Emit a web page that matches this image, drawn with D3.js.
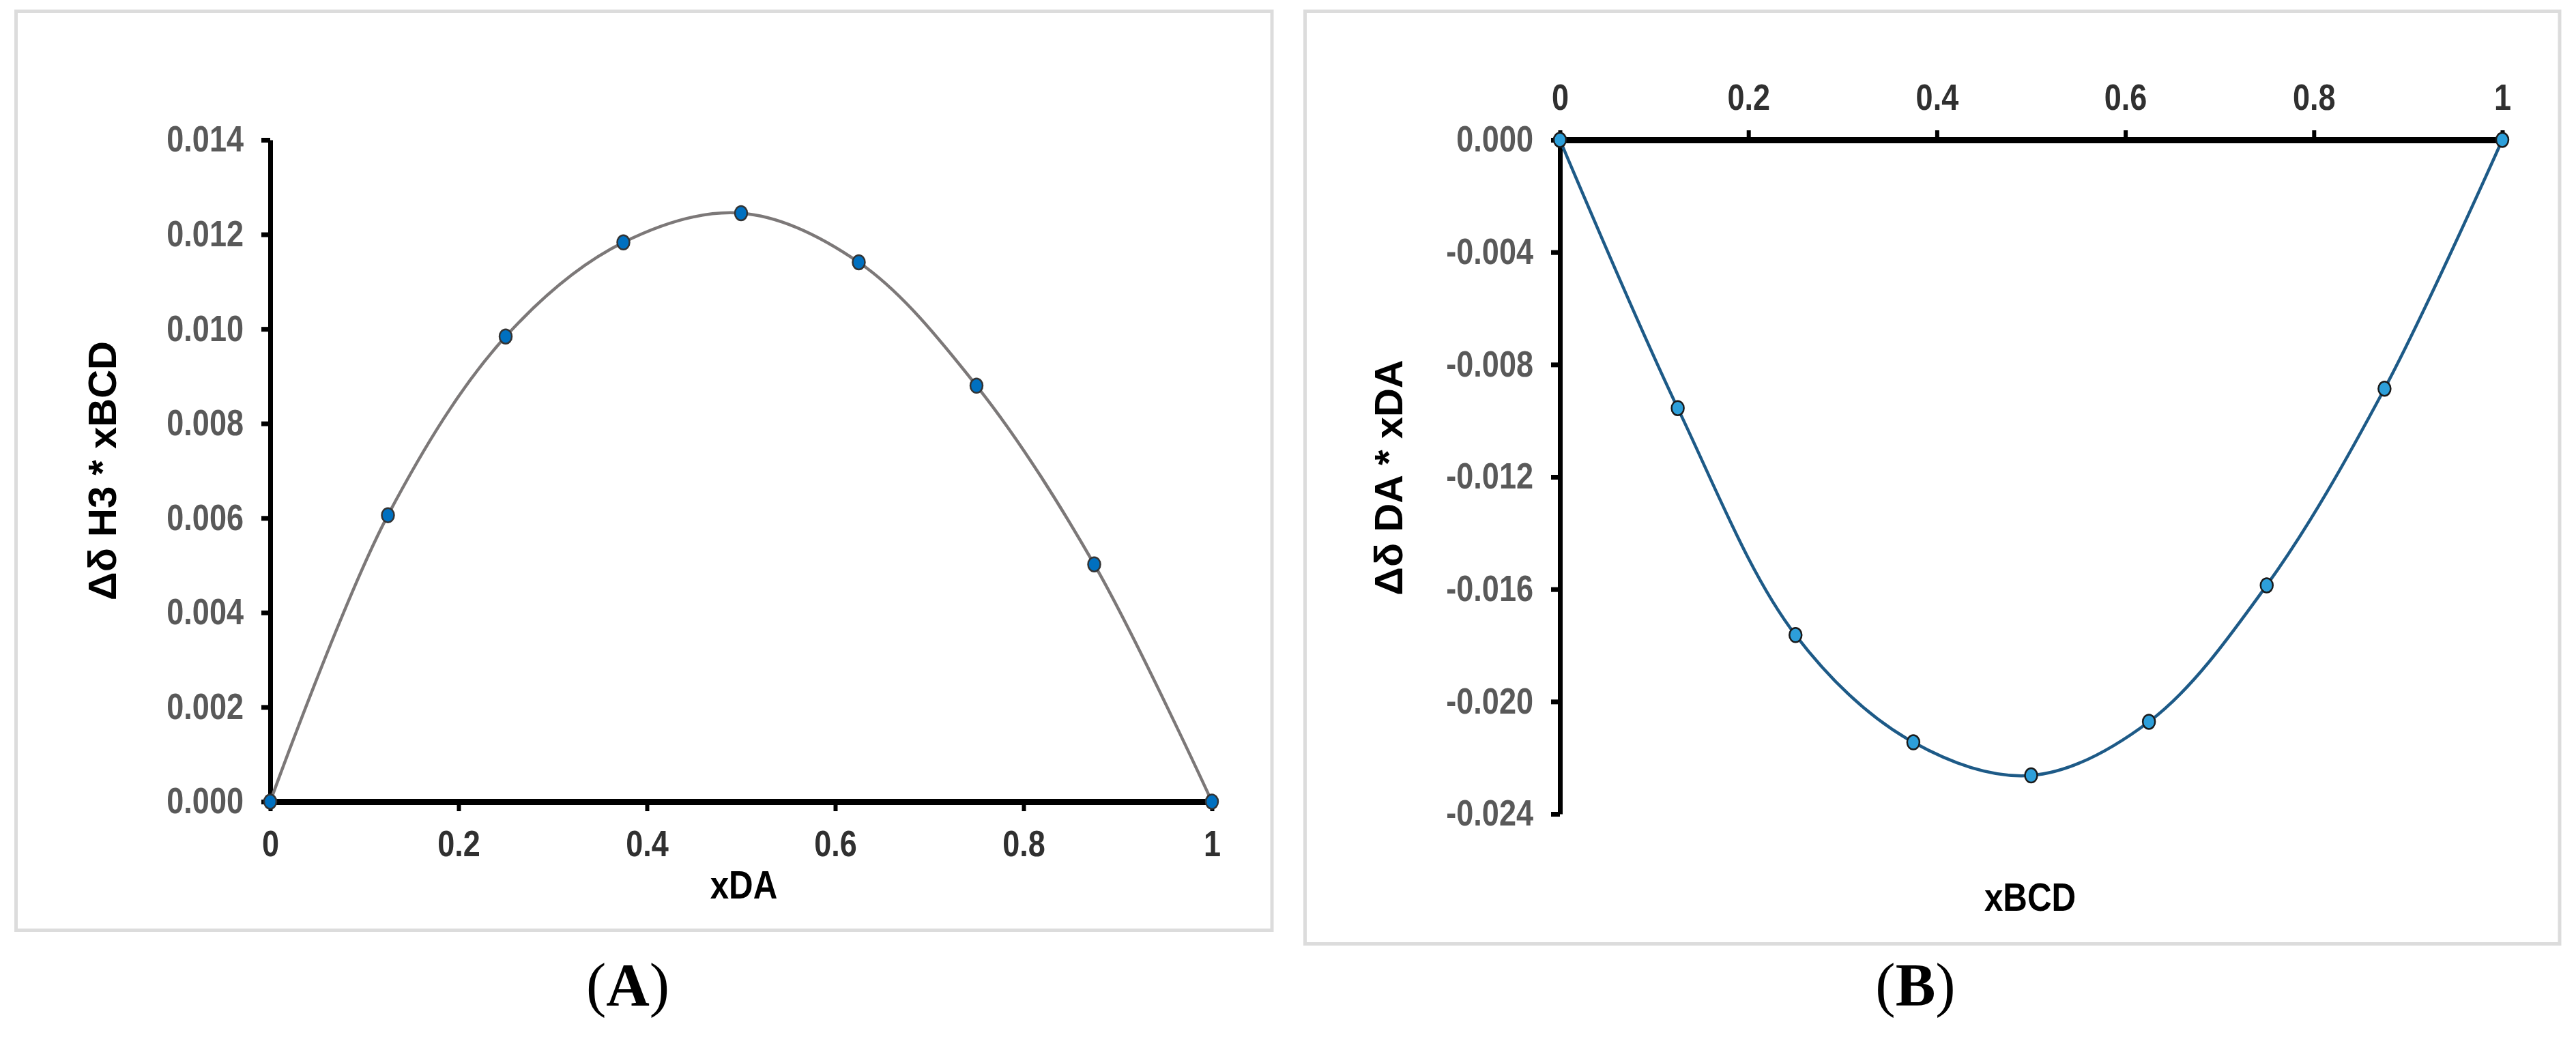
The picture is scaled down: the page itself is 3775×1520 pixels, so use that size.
<!DOCTYPE html>
<html>
<head>
<meta charset="utf-8">
<script src="https://cdn.jsdelivr.net/npm/d3@7/dist/d3.min.js"></script>
<style>
  html, body { margin: 0; padding: 0; background: #fff; }
  svg { display: block; }
  .tick-num { font-family: "Liberation Sans Narrow", "Arial Narrow", "Liberation Sans", Arial, sans-serif; font-weight: bold; }
  .ytitle { font-family: "Liberation Sans", Arial, sans-serif; font-weight: bold; }
  .caption { font-family: "Liberation Serif", "Times New Roman", serif; }
</style>
</head>
<body>
<svg id="chart" width="3775" height="1520"></svg>
<script>
// ---------------- data ----------------
const xValues = [0, 0.125, 0.25, 0.375, 0.5, 0.625, 0.75, 0.875, 1];
const seriesA = [0, 0.00606, 0.00984, 0.01183, 0.01245, 0.01141, 0.0088, 0.00502, 0];      // Δδ H3 * xBCD vs xDA
const seriesB = [0, -0.00955, -0.01763, -0.02145, -0.02263, -0.02072, -0.01586, -0.00886, 0]; // Δδ DA * xDA vs xBCD
const xTicks = [0, 0.2, 0.4, 0.6, 0.8, 1];
const yTicksA = [0, 0.002, 0.004, 0.006, 0.008, 0.010, 0.012, 0.014];
const yTicksB = [0, -0.004, -0.008, -0.012, -0.016, -0.020, -0.024];
const titles = { ax: "xDA", ay: "Δδ H3 * xBCD", bx: "xBCD", by: "Δδ DA * xDA" };
const captions = ["A", "B"];

// ---------------- drawing ----------------
const svg = d3.select("#chart");
const fmtX = d => (d === 0 || d === 1) ? String(d) : d3.format(".1f")(d);
const fmtY = d => d3.format(".3f")(Math.abs(d) < 1e-12 ? 0 : d).replace("\u2212", "-");
const NARROW = 0.85;

// condense text horizontally (narrow bold face look)
function condense(sel) {
  sel.each(function () {
    const w = this.getComputedTextLength();
    if (w > 0) d3.select(this).attr("textLength", w * NARROW).attr("lengthAdjust", "spacingAndGlyphs");
  });
}

function panel(cfg) {
  const g = svg.append("g");
  g.append("rect")
    .attr("x", cfg.frame[0]).attr("y", cfg.frame[1])
    .attr("width", cfg.frame[2]).attr("height", cfg.frame[3])
    .attr("fill", "none").attr("stroke", "#dcdcdc").attr("stroke-width", 5);

  const x = d3.scaleLinear().domain([0, 1]).range(cfg.xRange);
  const y = d3.scaleLinear().domain(cfg.yDomain).range(cfg.yRange);

  const xAxisGen = (cfg.xTop ? d3.axisTop(x) : d3.axisBottom(x))
    .tickValues(xTicks).tickFormat(fmtX).tickSizeOuter(0).tickSizeInner(14).tickPadding(cfg.xPad);
  const xa = g.append("g").attr("transform", `translate(0,${y(0)})`).call(xAxisGen);
  xa.select(".domain").attr("stroke", "#000").attr("stroke-width", 9);
  xa.selectAll(".tick line").attr("stroke", "#000").attr("stroke-width", 6);
  xa.selectAll(".tick text").attr("class", "tick-num").attr("font-size", 53).attr("fill", "#303030").call(condense);

  const yAxisGen = d3.axisLeft(y).tickValues(cfg.yTicks).tickFormat(fmtY)
    .tickSizeOuter(0).tickSizeInner(13).tickPadding(26);
  const ya = g.append("g").attr("transform", `translate(${x(0)},0)`).call(yAxisGen);
  ya.select(".domain").attr("stroke", "#000").attr("stroke-width", 7);
  ya.selectAll(".tick line").attr("stroke", "#000").attr("stroke-width", 7);
  ya.selectAll(".tick text").attr("class", "tick-num").attr("font-size", 53).attr("fill", "#595959").call(condense);
  xa.raise();

  const pts = xValues.map((v, i) => [v, cfg.values[i]]);
  g.append("path").datum(pts)
    .attr("fill", "none").attr("stroke", cfg.lineColor).attr("stroke-width", 4.5)
    .attr("d", d3.line().x(d => x(d[0])).y(d => y(d[1])).curve(d3.curveCatmullRom.alpha(0.5)));

  g.selectAll("ellipse.pt").data(pts).enter().append("ellipse")
    .attr("cx", d => x(d[0])).attr("cy", d => y(d[1]))
    .attr("rx", 9).attr("ry", 10.5)
    .attr("fill", cfg.markerFill).attr("stroke", cfg.markerStroke).attr("stroke-width", 2.5);

  g.append("text").attr("class", "tick-num")
    .attr("x", cfg.xTitlePos[0]).attr("y", cfg.xTitlePos[1])
    .attr("text-anchor", "middle").attr("font-size", 58).attr("fill", "#000")
    .text(cfg.xTitle).call(condense);
  g.append("text").attr("class", "ytitle")
    .attr("transform", `translate(${cfg.yTitlePos[0]},${cfg.yTitlePos[1]}) rotate(-90)`)
    .attr("text-anchor", "middle").attr("font-size", 58).attr("fill", "#000")
    .text(cfg.yTitle);

  const cap = svg.append("text").attr("class", "caption")
    .attr("x", cfg.capPos[0]).attr("y", cfg.capPos[1])
    .attr("text-anchor", "middle").attr("font-size", 88).attr("fill", "#000");
  cap.append("tspan").text("(");
  cap.append("tspan").attr("font-weight", "bold").text(cfg.caption);
  cap.append("tspan").text(")");
}

panel({
  frame: [23.5, 16.5, 1840.5, 1347],
  xRange: [396, 1776], yDomain: [0, 0.014], yRange: [1175, 205],
  yTicks: yTicksA, values: seriesA, xTop: false, xPad: 28,
  lineColor: "#7c7878", markerFill: "#0070c0", markerStroke: "#333333",
  xTitle: titles.ax, xTitlePos: [1090, 1317],
  yTitle: titles.ay, yTitlePos: [170, 690],
  caption: captions[0], capPos: [920, 1473]
});

panel({
  frame: [1912.5, 16.5, 1838.5, 1367],
  xRange: [2286, 3667], yDomain: [0, -0.024], yRange: [205, 1193],
  yTicks: yTicksB, values: seriesB, xTop: true, xPad: 30,
  lineColor: "#1d5a87", markerFill: "#2d9fda", markerStroke: "#1a1a1a",
  xTitle: titles.bx, xTitlePos: [2975, 1335],
  yTitle: titles.by, yTitlePos: [2055, 700],
  caption: captions[1], capPos: [2807, 1473]
});
</script>
</body>
</html>
